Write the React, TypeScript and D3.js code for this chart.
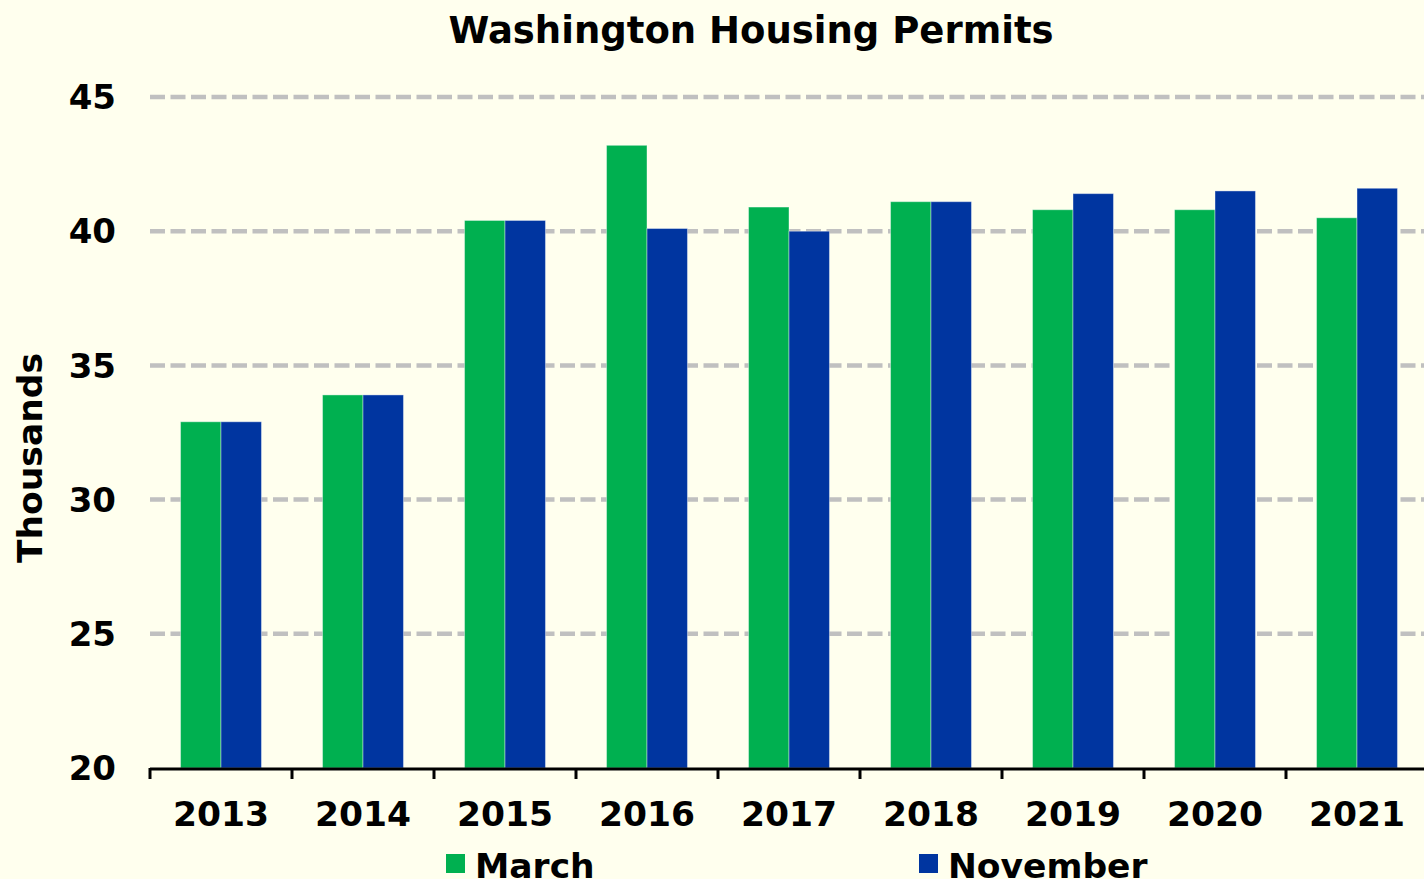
import * as d3 from "d3";
import {useEffect, useRef} from "react";

// chart data
const years = ["2013", "2014", "2015", "2016", "2017", "2018", "2019", "2020", "2021"];
const march = [32.9, 33.9, 40.4, 43.2, 40.9, 41.1, 40.8, 40.8, 40.5];
const november = [32.9, 33.9, 40.4, 40.1, 40.0, 41.1, 41.4, 41.5, 41.6];
const seriesNames = ["March", "November"];
const yTicks = [20, 25, 30, 35, 40, 45];

const colors = ["#00B050", "#0035A0"];
const font = "'DejaVu Sans', Verdana, sans-serif";

const App = () => {
    const ref = useRef<SVGSVGElement>(null);

    useEffect(() => {
        const width = 1424, height = 879;
        const left = 150, right = 1428, top = 97, bottom = 768;

        const svg = d3.select(ref.current);
        svg.selectAll("*").remove();
        svg.attr("width", width).attr("height", height);

        svg.append("rect")
            .attr("width", width)
            .attr("height", height)
            .attr("fill", "#FFFFEE");

        const rows = years.map((y, i) => ({year: y, values: [march[i], november[i]]}));

        const x0 = d3.scaleBand()
            .domain(years)
            .range([left, right])
            .paddingInner(0.43)
            .paddingOuter(0.215);
        const x1 = d3.scaleBand()
            .domain(seriesNames)
            .range([0, x0.bandwidth()]);
        const y = d3.scaleLinear()
            .domain([20, 45])
            .range([bottom, top]);

        // dashed grid
        svg.append("g")
            .selectAll("line")
            .data(yTicks.filter(t => t > 20))
            .join("line")
            .attr("x1", left)
            .attr("x2", width)
            .attr("y1", d => y(d))
            .attr("y2", d => y(d))
            .attr("stroke", "#C0C0C0")
            .attr("stroke-width", 4.5)
            .attr("stroke-dasharray", "15 5.5");

        // bars
        svg.append("g")
            .selectAll("g")
            .data(rows)
            .join("g")
            .attr("transform", d => `translate(${x0(d.year)},0)`)
            .selectAll("rect")
            .data(d => d.values.map((v, i) => ({key: seriesNames[i], value: v, i})))
            .join("rect")
            .attr("x", d => x1(d.key)!)
            .attr("width", x1.bandwidth())
            .attr("y", d => y(d.value))
            .attr("height", d => y(20) - y(d.value))
            .attr("fill", d => colors[d.i])
            .attr("stroke", "#ffffff")
            .attr("stroke-opacity", 0.4)
            .attr("stroke-width", 1);

        // y tick labels
        svg.append("g")
            .selectAll("text")
            .data(yTicks)
            .join("text")
            .attr("x", 116)
            .attr("y", d => y(d))
            .attr("dy", "0.36em")
            .attr("text-anchor", "end")
            .attr("font-family", font)
            .attr("font-weight", "bold")
            .attr("font-size", 34)
            .text(d => d);

        // x axis line + ticks at band edges
        svg.append("line")
            .attr("x1", left)
            .attr("x2", width)
            .attr("y1", bottom + 1)
            .attr("y2", bottom + 1)
            .attr("stroke", "#000")
            .attr("stroke-width", 3);
        const step = x0.step();
        svg.append("g")
            .selectAll("line")
            .data(d3.range(years.length + 1))
            .join("line")
            .attr("x1", i => left + i * step)
            .attr("x2", i => left + i * step)
            .attr("y1", bottom)
            .attr("y2", bottom + 11)
            .attr("stroke", "#000")
            .attr("stroke-width", 3);

        svg.append("g")
            .selectAll("text")
            .data(years)
            .join("text")
            .attr("x", d => x0(d)! + x0.bandwidth() / 2)
            .attr("y", 826)
            .attr("text-anchor", "middle")
            .attr("font-family", font)
            .attr("font-weight", "bold")
            .attr("font-size", 34.5)
            .text(d => d);

        // title
        svg.append("text")
            .attr("x", 751)
            .attr("y", 43)
            .attr("text-anchor", "middle")
            .attr("font-family", font)
            .attr("font-weight", "bold")
            .attr("font-size", 37)
            .text("Washington Housing Permits");

        // y label
        svg.append("text")
            .attr("transform", "translate(42,458) rotate(-90)")
            .attr("text-anchor", "middle")
            .attr("font-family", font)
            .attr("font-weight", "bold")
            .attr("font-size", 34.5)
            .text("Thousands");

        // legend
        const legendX = [446, 919];
        const lg = svg.append("g")
            .selectAll("g")
            .data(seriesNames)
            .join("g")
            .attr("transform", (d, i) => `translate(${legendX[i]},0)`);
        lg.append("rect")
            .attr("y", 854)
            .attr("width", 19)
            .attr("height", 19)
            .attr("fill", (d, i) => colors[i]);
        lg.append("text")
            .attr("x", 29)
            .attr("y", 878)
            .attr("font-family", font)
            .attr("font-weight", "bold")
            .attr("font-size", 34.5)
            .text(d => d);
    }, []);

    return (
        <div style={{position: "absolute", left: 0, top: 0}}>
            <svg ref={ref} style={{display: "block"}}/>
        </div>
    );
};

export default App;
